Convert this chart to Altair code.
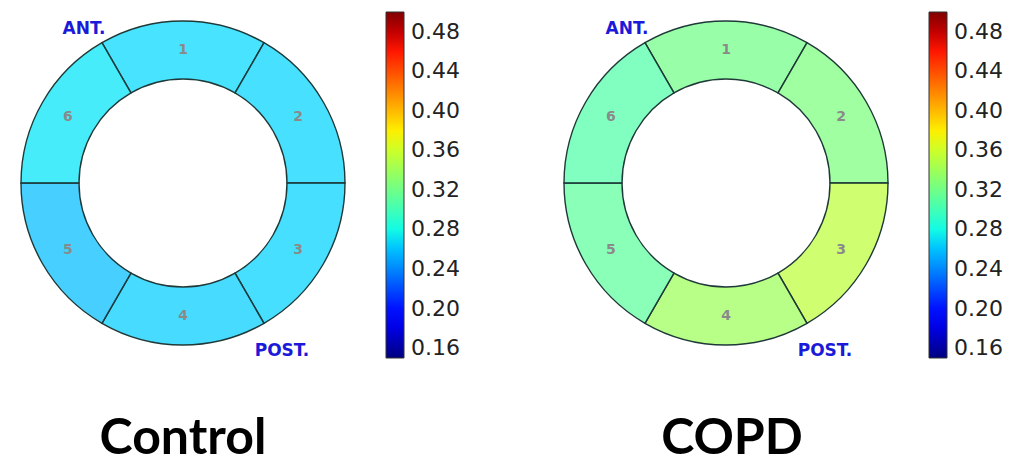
import math
import altair as alt
import pandas as pd

# ---- data ----
segments = ["1", "2", "3", "4", "5", "6"]
control_values = [0.268, 0.267, 0.266, 0.265, 0.259, 0.272]
copd_values = [0.320, 0.325, 0.353, 0.339, 0.311, 0.306]
colorbar_ticks = [0.16, 0.20, 0.24, 0.28, 0.32, 0.36, 0.40, 0.44, 0.48]
group_names = ["Control", "COPD"]
ant_label = "ANT."
post_label = "POST."

# ---- jet colormap (matplotlib-like) on [0.15, 0.50] ----
VMIN, VMAX = 0.15, 0.50
JET_T = [0, 0.11, 0.125, 0.34, 0.35, 0.375, 0.64, 0.65, 0.66, 0.89, 0.91, 1]
JET_C = ["#000080", "#0000ff", "#0000ff", "#00dbff", "#00e5f7", "#15ffe2",
         "#eeff08", "#f7f500", "#ffec00", "#ff1300", "#e80000", "#800000"]
JET_DOMAIN = [VMIN + t * (VMAX - VMIN) for t in JET_T]

CX, CY = 175, 175
R_OUT, R_IN, R_LAB = 162, 104, 133
START = 11 * math.pi / 6
W1, W2, H = 530, 449, 456
LEG_X, LEG_Y = 378, 4


def panel(name, values, width, title_dx):
    df = pd.DataFrame({
        "segment": segments,
        "order": list(range(len(segments))),
        "share": [1] * len(segments),
        "value": values,
    })
    base = alt.Chart(df)
    theta = alt.Theta("share:Q", stack=True,
                      scale=alt.Scale(range=[START, START + 2 * math.pi]))
    ring = base.mark_arc(
        outerRadius=R_OUT, innerRadius=R_IN, stroke="#1f3838",
        strokeWidth=1.4, fillOpacity=0.72, strokeOpacity=1,
    ).encode(
        theta=theta,
        order=alt.Order("order:Q"),
        color=alt.Color(
            "value:Q",
            scale=alt.Scale(domain=JET_DOMAIN, range=JET_C, interpolate="rgb"),
            legend=alt.Legend(
                orient="none", legendX=LEG_X, legendY=LEG_Y,
                direction="vertical", title=None,
                gradientLength=346, gradientThickness=18,
                gradientStrokeColor="#333333", gradientStrokeWidth=1,
                values=colorbar_ticks, format=".2f",
                labelFont="DejaVu Sans", labelFontSize=22,
                labelColor="#222222", labelOffset=7, labelOverlap=False,
            ),
        ),
        x=alt.value(CX), y=alt.value(CY),
    )
    nums = base.mark_text(
        radius=R_LAB, font="DejaVu Sans", fontWeight="bold",
        fontSize=14, color="#8a8a8a",
    ).encode(
        theta=theta,
        order=alt.Order("order:Q"),
        text="segment:N",
        x=alt.value(CX), y=alt.value(CY),
    )
    one = pd.DataFrame({"label": [name]})
    ant = alt.Chart(pd.DataFrame({"label": [ant_label]})).mark_text(
        font="DejaVu Sans", fontWeight="bold", fontSize=17, color="#1a1ad8",
    ).encode(text="label:N", x=alt.value(CX - 99), y=alt.value(CY - 154))
    post = alt.Chart(pd.DataFrame({"label": [post_label]})).mark_text(
        font="DejaVu Sans", fontWeight="bold", fontSize=17, color="#1a1ad8",
    ).encode(text="label:N", x=alt.value(CX + 99), y=alt.value(CY + 168))
    title = alt.Chart(one).mark_text(
        font="Lato", fontWeight="bold", fontSize=50, color="#000000",
        baseline="alphabetic",
    ).encode(text="label:N", x=alt.value(CX + title_dx), y=alt.value(446))
    return alt.layer(ring, nums, ant, post, title).properties(width=width, height=H)


p1 = panel(group_names[0], control_values, W1, 0)
p2 = panel(group_names[1], copd_values, W2, 6)

chart = alt.hconcat(p1, p2, spacing=13).resolve_scale(
    color="independent", theta="independent"
).properties(padding=0).configure_view(strokeWidth=0)

chart.save("out.html", embed_options={"renderer": "svg", "actions": False})
